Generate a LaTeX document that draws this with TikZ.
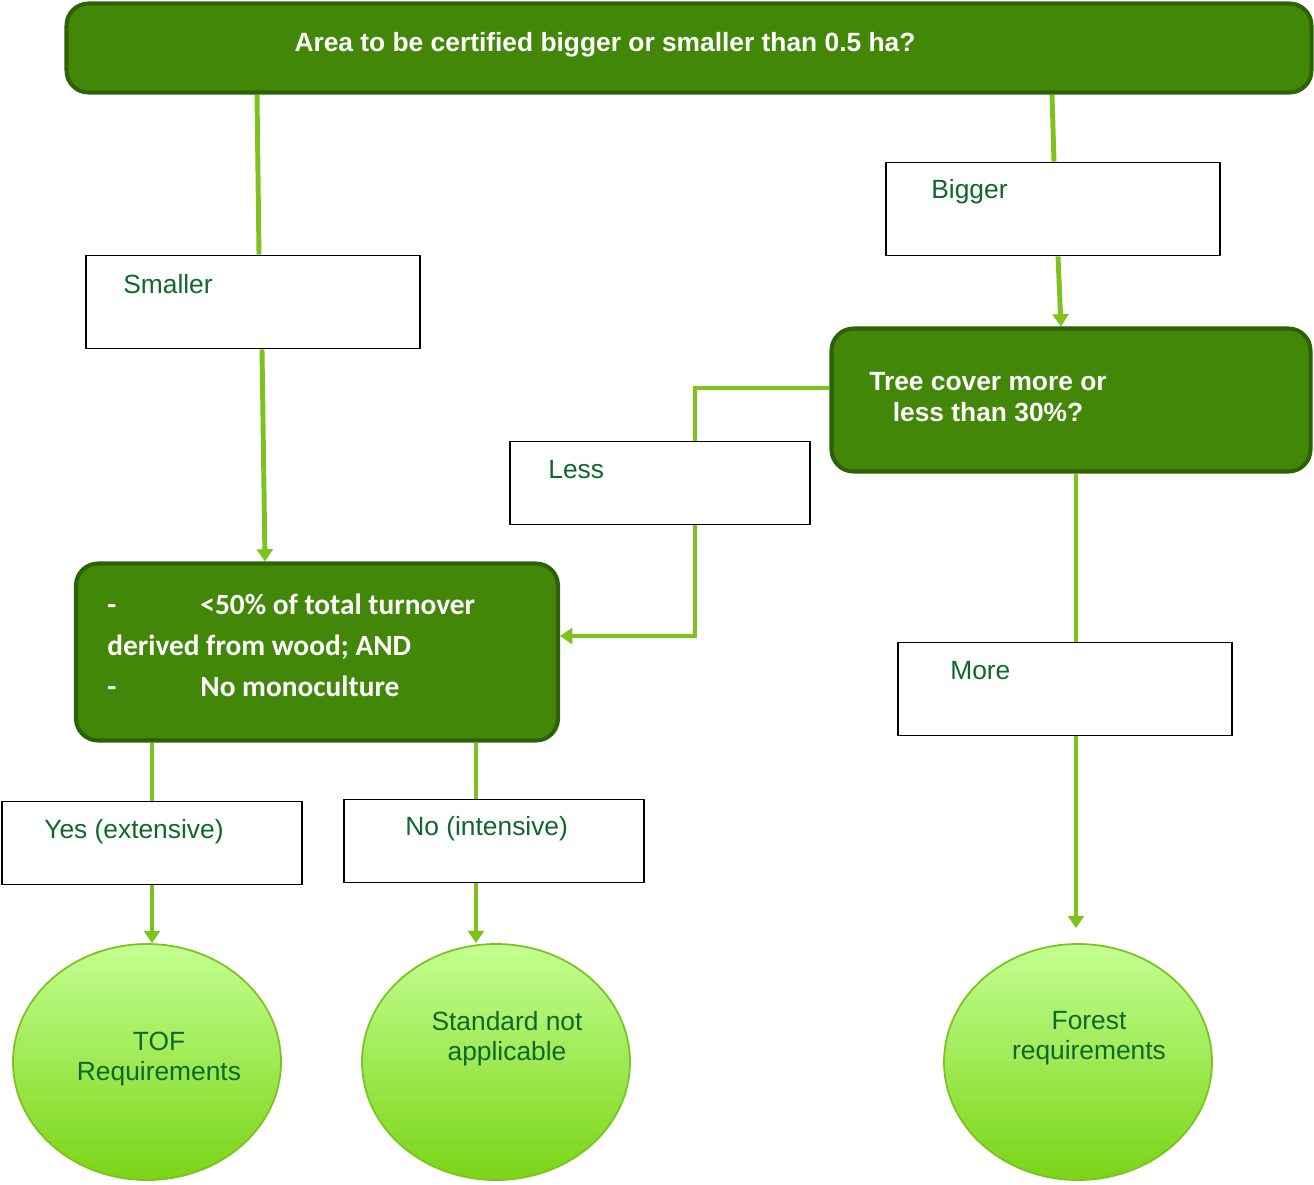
\documentclass[tikz,border=0pt]{standalone}
\usepackage{fontspec}
\setmainfont{Liberation Sans}
\newfontfamily\calibri{Carlito}
\usetikzlibrary{arrows.meta,shapes.geometric,backgrounds}
\newlength\pxu
\setlength\pxu{0.02cm}
\definecolor{leaf}{RGB}{66,135,8}
\definecolor{leafdark}{RGB}{45,97,5}
\definecolor{lime}{RGB}{125,194,30}
\definecolor{inkgreen}{RGB}{14,104,44}
\definecolor{paletop}{RGB}{195,255,145}
\definecolor{palebot}{RGB}{122,212,22}
\tikzset{x=\pxu,y=-\pxu,
    question/.style={draw=leafdark,line width=2.3pt,fill=leaf,rounded corners=22\pxu,inner sep=0pt},
    choice/.style={draw=black,line width=1pt,fill=white,inner sep=0pt,minimum width=334\pxu,minimum height=93\pxu},
    outcome/.style={ellipse,draw=lime,line width=1pt,top color=paletop,bottom color=palebot,
        inner sep=0pt,minimum width=268\pxu,minimum height=236\pxu},
    qtext/.style={text=white,font=\fontsize{15}{17.5}\selectfont\bfseries,inner sep=0pt},
    ctext/.style={text=inkgreen,font=\fontsize{15}{17}\selectfont,inner sep=0pt},
    link/.style={draw=lime,line width=2.8pt},
    flow/.style={link,-{Triangle[length=7pt,width=9pt]}}}

\begin{document}
\begin{tikzpicture}
\useasboundingbox (0,0) rectangle (1314,1184);

% questions
\node[question,minimum width=1245\pxu,minimum height=89\pxu] (area) at (689,48) {};
\node[qtext] (areaT) at (605,45) {Area to be certified bigger or smaller than 0.5 ha?};
\node[question,minimum width=479\pxu,minimum height=143\pxu] (cover) at (1071,400) {};
\node[qtext,align=center] (coverT) at (988,397) {Tree cover more or\\ less than 30\%?};
\node[question,minimum width=482\pxu,minimum height=177\pxu] (crit) at (317,652) {};
\node[qtext,font=\calibri\fontsize{16.7}{23.3}\selectfont\bfseries,align=left,anchor=west] (critT) at (107,645)
    {\makebox[53pt][l]{-}<50\% of total turnover\\ derived from wood; AND\\ \makebox[53pt][l]{-}No monoculture};

% answers
\node[choice] (small) at (253,302) {};
\node[ctext,anchor=west] (smallT) at (123,284) {Smaller};
\node[choice] (big) at (1053,209) {};
\node[ctext,anchor=west] (bigT) at (931,192) {Bigger};
\node[choice,minimum width=300\pxu,minimum height=83\pxu] (less) at (660,483) {};
\node[ctext,anchor=west] (lessT) at (548,470) {Less};
\node[choice] (more) at (1065,689) {};
\node[ctext,anchor=west] (moreT) at (950,671) {More};
\node[choice,minimum width=300\pxu,minimum height=83\pxu] (yes) at (152,843) {};
\node[ctext,anchor=west] (yesT) at (44,832) {Yes (extensive)};
\node[choice,minimum width=300\pxu,minimum height=83\pxu] (no) at (494,841) {};
\node[ctext,anchor=west] (noT) at (405,829) {No (intensive)};

% outcomes
\node[outcome] (tof) at (147,1062) {};
\node[ctext,align=center] (tofT) at (159,1059) {TOF\\ Requirements};
\node[outcome] (std) at (496,1062) {};
\node[ctext,align=center] (stdT) at (507,1039) {Standard not\\ applicable};
\node[outcome] (forest) at (1078,1062) {};
\node[ctext,align=center] (forestT) at (1089,1038) {Forest\\ requirements};

\begin{scope}[on background layer]
\draw[link] (area.south -| 257,0) -- (small.north -| 259,0);
\draw[flow] (small.south -| 262,0) -- (crit.north -| 265,0);
\draw[link] (area.south -| 1052,0) -- (big.north -| 1054,0);
\draw[flow] (big.south -| 1058,0) -- (cover.north -| 1061,0);
\draw[link] (cover.west |- 0,388) -| (less.north -| 695,0);
\draw[flow] (less.south -| 695,0) |- (crit.east |- 0,636);
\draw[link] (cover.south -| 1076,0) -- (more.north -| 1076,0);
\draw[flow,shorten >=15\pxu] (more.south -| 1076,0) -- (forest.north -| 1076,0);
\draw[link] (crit.south -| 152,0) -- (yes.north);
\draw[flow] (yes.south) -- (tof.north -| 152,0);
\draw[link] (crit.south -| 476,0) -- (no.north -| 476,0);
\draw[flow] (no.south -| 476,0) -- (std.north -| 476,0);
\end{scope}
\end{tikzpicture}
\end{document}
